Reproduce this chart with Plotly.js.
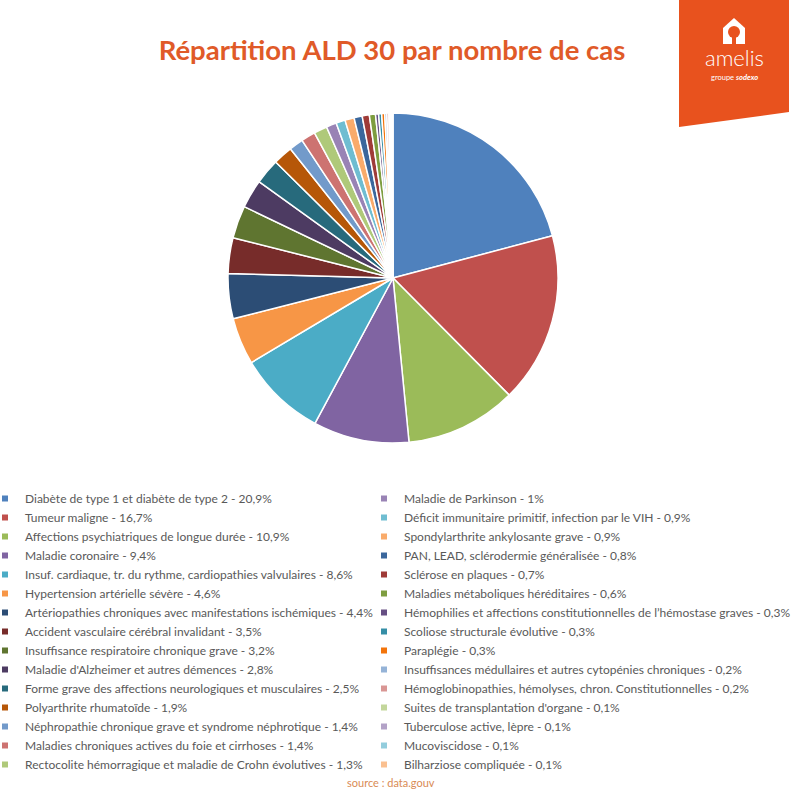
<!DOCTYPE html>
<html>
<head>
<meta charset="utf-8">
<script src="https://cdn.plot.ly/plotly-3.0.1.min.js"></script>
<style>html,body{margin:0;padding:0;background:#fff;}#chart{width:800px;height:805px;}</style>
</head>
<body>
<div id="chart"></div>
<script>
// ---- data ----
const labels = [
  "Diabète de type 1 et diabète de type 2",
  "Tumeur maligne",
  "Affections psychiatriques de longue durée",
  "Maladie coronaire",
  "Insuf. cardiaque, tr. du rythme, cardiopathies valvulaires",
  "Hypertension artérielle sévère",
  "Artériopathies chroniques avec manifestations ischémiques",
  "Accident vasculaire cérébral invalidant",
  "Insuffisance respiratoire chronique grave",
  "Maladie d'Alzheimer et autres démences",
  "Forme grave des affections neurologiques et musculaires",
  "Polyarthrite rhumatoïde",
  "Néphropathie chronique grave et syndrome néphrotique",
  "Maladies chroniques actives du foie et cirrhoses",
  "Rectocolite hémorragique et maladie de Crohn évolutives",
  "Maladie de Parkinson",
  "Déficit immunitaire primitif, infection par le VIH",
  "Spondylarthrite ankylosante grave",
  "PAN, LEAD, sclérodermie généralisée",
  "Sclérose en plaques",
  "Maladies métaboliques héréditaires",
  "Hémophilies et affections constitutionnelles de l’hémostase graves",
  "Scoliose structurale évolutive",
  "Paraplégie",
  "Insuffisances médullaires et autres cytopénies chroniques",
  "Hémoglobinopathies, hémolyses, chron. Constitutionnelles",
  "Suites de transplantation d'organe",
  "Tuberculose active, lèpre",
  "Mucoviscidose",
  "Bilharziose compliquée"
];
const percents = [20.9, 16.7, 10.9, 9.4, 8.6, 4.6, 4.4, 3.5, 3.2, 2.8, 2.5, 1.9, 1.4, 1.4, 1.3,
                  1.0, 0.9, 0.9, 0.8, 0.7, 0.6, 0.3, 0.3, 0.3, 0.2, 0.2, 0.1, 0.1, 0.1, 0.1];
const percentText = ["20,9%","16,7%","10,9%","9,4%","8,6%","4,6%","4,4%","3,5%","3,2%","2,8%","2,5%","1,9%","1,4%","1,4%","1,3%",
                     "1%","0,9%","0,9%","0,8%","0,7%","0,6%","0,3%","0,3%","0,3%","0,2%","0,2%","0,1%","0,1%","0,1%","0,1%"];
const leftColumnCount = 15;

// ---- styles ----
const colors = [
  "#4F81BD","#C0504D","#9BBB59","#8064A2","#4BACC6","#F79646",
  "#2C4D75","#772C2A","#5F7530","#4D3B62","#276A7C","#B65708",
  "#729ACA","#CD7371","#AFC97A","#9983B5","#6FBDD1","#F9AB6B",
  "#3B679C","#9F3B38","#7E9D40","#664F83","#358EA6","#F3740B",
  "#95B3D7","#D99694","#C3D69B","#B3A2C7","#93CDDD","#FAC090"
];
const W = 800, H = 805;
const px = x => x / W;
const py = y => 1 - y / H;

const traces = [{
  type: "pie",
  labels: labels,
  values: percents,
  sort: false,
  direction: "clockwise",
  rotation: 0,
  textinfo: "none",
  hoverinfo: "label+percent",
  showlegend: false,
  marker: { colors: colors, line: { color: "#ffffff", width: 1.5 } },
  domain: { x: [px(228), px(558)], y: [py(443), py(113)] }
}];

// legend entries (one per category), split in two columns
labels.forEach((lab, i) => {
  traces.push({
    type: "scatter",
    mode: "markers",
    x: [null], y: [null],
    name: lab + " - " + percentText[i],
    marker: { symbol: "square", size: 6, color: colors[i] },
    legend: i < leftColumnCount ? "legend" : "legend2",
    hoverinfo: "skip"
  });
});

const legendFont = { family: "Lato, 'Open Sans', sans-serif", size: 12, color: "#595959" };

const layout = {
  width: W, height: H,
  margin: { l: 0, r: 0, t: 0, b: 0, autoexpand: false },
  paper_bgcolor: "#ffffff",
  plot_bgcolor: "#ffffff",
  xaxis: { visible: false },
  yaxis: { visible: false },
  title: {
    text: "<b>Répartition ALD 30 par nombre de cas</b>",
    font: { family: "Lato, 'Open Sans', sans-serif", size: 27.5, color: "#E05A28" },
    x: px(392), xanchor: "center",
    y: py(50), yanchor: "middle",
    xref: "paper", yref: "paper"
  },
  legend: {
    x: px(-15), xanchor: "left",
    y: py(484), yanchor: "top",
    font: legendFont,
    bgcolor: "rgba(0,0,0,0)",
    itemclick: false, itemdoubleclick: false
  },
  legend2: {
    x: px(364), xanchor: "left",
    y: py(484), yanchor: "top",
    font: legendFont,
    bgcolor: "rgba(0,0,0,0)",
    itemclick: false, itemdoubleclick: false
  },
  shapes: [
    // logo block
    { type: "path", xref: "paper", yref: "paper",
      path: `M ${px(679)} ${py(0)} L ${px(789)} ${py(0)} L ${px(789)} ${py(112)} L ${px(679)} ${py(127)} Z`,
      fillcolor: "#E8521E", line: { width: 0 } },
    // house
    { type: "path", xref: "paper", yref: "paper",
      path: `M ${px(723)} ${py(44)} L ${px(723)} ${py(28)} L ${px(734)} ${py(18)} L ${px(745)} ${py(28)} L ${px(745)} ${py(44)} Z`,
      fillcolor: "#ffffff", line: { width: 0 } },
    { type: "circle", xref: "paper", yref: "paper",
      x0: px(728), x1: px(740), y0: py(38), y1: py(26),
      fillcolor: "#E8521E", line: { width: 0 } },
    { type: "rect", xref: "paper", yref: "paper",
      x0: px(732), x1: px(736), y0: py(44), y1: py(36),
      fillcolor: "#E8521E", line: { width: 0 } }
  ],
  annotations: [
    { text: "amelis", xref: "paper", yref: "paper", x: px(734), y: py(58),
      xanchor: "center", yanchor: "middle", showarrow: false,
      font: { family: "Lato, 'Open Sans', sans-serif", size: 22, color: "#ffffff", weight: 300 } },
    { text: "groupe <b><i>sodexo</i></b>", xref: "paper", yref: "paper", x: px(734), y: py(77),
      xanchor: "center", yanchor: "middle", showarrow: false,
      font: { family: "Lato, 'Open Sans', sans-serif", size: 7.5, color: "#ffffff" } },
    { text: "source : data.gouv", xref: "paper", yref: "paper", x: px(391), y: py(782),
      xanchor: "center", yanchor: "middle", showarrow: false,
      font: { family: "Lato, 'Open Sans', sans-serif", size: 11, color: "#D98B55" } }
  ]
};

Plotly.newPlot("chart", traces, layout, { staticPlot: false, displayModeBar: false });
</script>
</body>
</html>
